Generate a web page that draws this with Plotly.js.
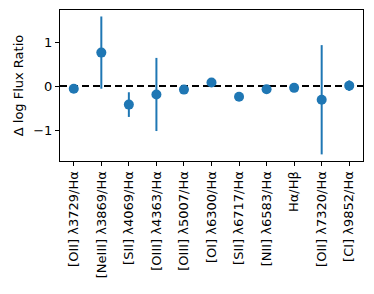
<!DOCTYPE html>
<html><head><meta charset="utf-8">
<script src="https://cdn.plot.ly/plotly-3.0.1.min.js"></script>
<style>html,body{margin:0;padding:0;background:#fff}</style>
</head><body>
<div id="chart" style="width:374px;height:294px"></div>
<script>
var labels = ["[OII] λ3729/Hα","[NeIII] λ3869/Hα","[SII] λ4069/Hα","[OIII] λ4363/Hα","[OIII] λ5007/Hα","[OI] λ6300/Hα","[SII] λ6717/Hα","[NII] λ6583/Hα","Hα/Hβ","[OII] λ7320/Hα","[CI] λ9852/Hα"];
var values = [-0.06, 0.76, -0.42, -0.19, -0.08, 0.08, -0.24, -0.07, -0.04, -0.31, 0.01];
var errors = [0.02, 0.82, 0.28, 0.83, 0.03, 0.02, 0.02, 0.02, 0.02, 1.24, 0.12];
var xs = labels.map(function(_, i){ return i; });
var blue = "#1f77b4";
Plotly.newPlot("chart", [{
  x: xs, y: values, type: "scatter", mode: "markers",
  marker: {color: blue, size: 10},
  error_y: {type: "data", array: errors, visible: true, color: blue, thickness: 2, width: 0},
  hoverinfo: "none"
}], {
  width: 374, height: 294,
  margin: {l: 60, r: 11, t: 10, b: 133},
  paper_bgcolor: "#fff", plot_bgcolor: "#fff",
  showlegend: false,
  font: {family: "DejaVu Sans", size: 13, color: "#000"},
  xaxis: {
    range: [-0.5, 10.5], tickmode: "array", tickvals: xs, ticktext: labels,
    tickangle: -90, ticks: "outside", ticklen: 4, tickcolor: "#000",
    showgrid: false, zeroline: false, showline: true, linecolor: "#000", linewidth: 1, mirror: true,
    tickfont: {size: 13}
  },
  yaxis: {
    range: [-1.70, 1.727], tickvals: [-1, 0, 1], ticktext: ["−1", "0", "1"],
    ticks: "outside", ticklen: 4, tickcolor: "#000",
    showgrid: false, zeroline: false, showline: true, linecolor: "#000", linewidth: 1, mirror: true,
    title: {text: "Δ log Flux Ratio", font: {size: 13}, standoff: 6},
    tickfont: {size: 13}
  },
  shapes: [{type: "line", xref: "paper", yref: "y", x0: 0, x1: 1, y0: 0, y1: 0,
    line: {color: "#000", width: 2, dash: "7px,4px"}, layer: "below"}]
}, {staticPlot: true});
</script>
</body></html>
